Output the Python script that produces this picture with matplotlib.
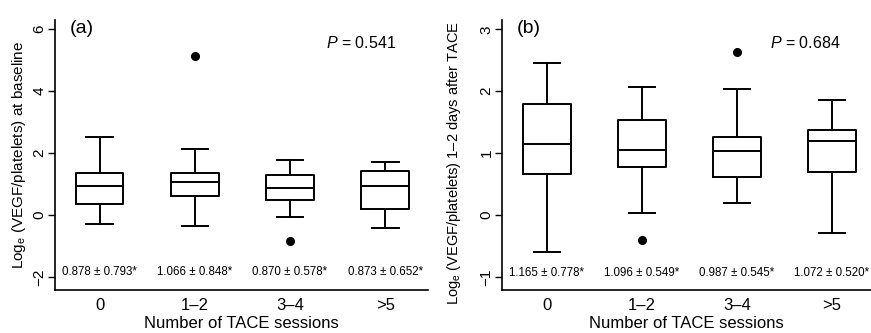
import matplotlib
matplotlib.use("Agg")
import matplotlib.pyplot as plt

plt.rcParams["font.family"] = ["Liberation Sans", "DejaVu Sans"]
plt.rcParams["mathtext.fontset"] = "custom"
plt.rcParams["mathtext.rm"] = "Liberation Sans"
plt.rcParams["mathtext.it"] = "Liberation Sans:italic"
plt.rcParams["mathtext.default"] = "regular"

groups = ["0", "1\u20132", "3\u20134", ">5"]

# panel (a): baseline
a_whislo = [-0.30, -0.35, -0.05, -0.41]
a_q1 = [0.37, 0.60, 0.47, 0.19]
a_med = [0.95, 1.06, 0.87, 0.92]
a_q3 = [1.34, 1.34, 1.30, 1.42]
a_whishi = [2.51, 2.13, 1.79, 1.70]
a_fliers = [[], [5.12], [-0.83], []]
a_means = ["0.878 \u00b1 0.793*", "1.066 \u00b1 0.848*", "0.870 \u00b1 0.578*", "0.873 \u00b1 0.652*"]

# panel (b): 1-2 days after TACE
b_whislo = [-0.60, 0.03, 0.20, -0.29]
b_q1 = [0.66, 0.77, 0.62, 0.70]
b_med = [1.15, 1.05, 1.04, 1.20]
b_q3 = [1.79, 1.53, 1.26, 1.37]
b_whishi = [2.46, 2.07, 2.03, 1.86]
b_fliers = [[], [-0.40], [2.64], []]
b_means = ["1.165 \u00b1 0.778*", "1.096 \u00b1 0.549*", "0.987 \u00b1 0.545*", "1.072 \u00b1 0.520*"]


def make_stats(lo, q1, med, q3, hi, fl):
    return [dict(whislo=lo[i], q1=q1[i], med=med[i], q3=q3[i], whishi=hi[i], fliers=fl[i])
            for i in range(len(lo))]


def draw(ax, stats, means, ylim, yticks, ylabel, ylsize, tag, pval, ytext):
    lw = 1.4
    ax.bxp(stats, positions=range(1, 5), widths=0.5, capwidths=0.28, showfliers=True,
           boxprops=dict(color="black", linewidth=lw),
           medianprops=dict(color="black", linewidth=lw),
           whiskerprops=dict(color="black", linewidth=lw),
           capprops=dict(color="black", linewidth=lw),
           flierprops=dict(marker="o", markerfacecolor="black", markeredgecolor="black",
                           markersize=5.5))
    ax.set_ylim(ylim)
    ax.set_yticks(yticks)
    ax.set_yticklabels([str(t).replace("-", "\u2212") for t in yticks])
    ax.set_xticks(range(1, 5))
    ax.set_xticklabels(groups)
    ax.tick_params(axis="x", length=0, labelsize=12, pad=6)
    ax.tick_params(axis="y", length=5, width=1, labelsize=11, labelrotation=90, pad=1)
    for lab in ax.get_yticklabels():
        lab.set_va("center")
    for s in ["top", "right"]:
        ax.spines[s].set_visible(False)
    for s in ["left", "bottom"]:
        ax.spines[s].set_linewidth(1.2)
    ax.set_xlabel("Number of TACE sessions", fontsize=12, labelpad=2)
    ax.set_ylabel(ylabel, fontsize=ylsize, labelpad=3)
    for i, m in enumerate(means):
        ax.text(i + 1, ytext, m, ha="center", va="center", fontsize=8.3)
    ax.text(0.04, 1.0, tag, transform=ax.transAxes, fontsize=14, ha="left", va="top")
    ax.text(0.727, 0.915, r"$\mathit{P}$ = " + pval, transform=ax.transAxes, fontsize=11.5,
            ha="left", va="center")


fig = plt.figure(figsize=(8.71, 3.33), dpi=100)
ax1 = fig.add_axes([0.0631, 0.129, 0.4283, 0.811])
ax2 = fig.add_axes([0.5763, 0.129, 0.4237, 0.811])

draw(ax1, make_stats(a_whislo, a_q1, a_med, a_q3, a_whishi, a_fliers), a_means,
     (-2.42, 6.29), [-2, 0, 2, 4, 6], "Log$_{e}$ (VEGF/platelets) at baseline", 11,
     "(a)", "0.541", -1.85)
ax1.set_xlim(0.53, 4.45)
draw(ax2, make_stats(b_whislo, b_q1, b_med, b_q3, b_whishi, b_fliers), b_means,
     (-1.21, 3.15), [-1, 0, 1, 2, 3], "Log$_{e}$ (VEGF/platelets) 1\u20132 days after TACE", 10.5,
     "(b)", "0.684", -0.93)
ax2.set_xlim(0.526, 4.41)
ax2.yaxis.set_label_coords(-0.105, 0.47)

fig.savefig("out.png", dpi=100)
